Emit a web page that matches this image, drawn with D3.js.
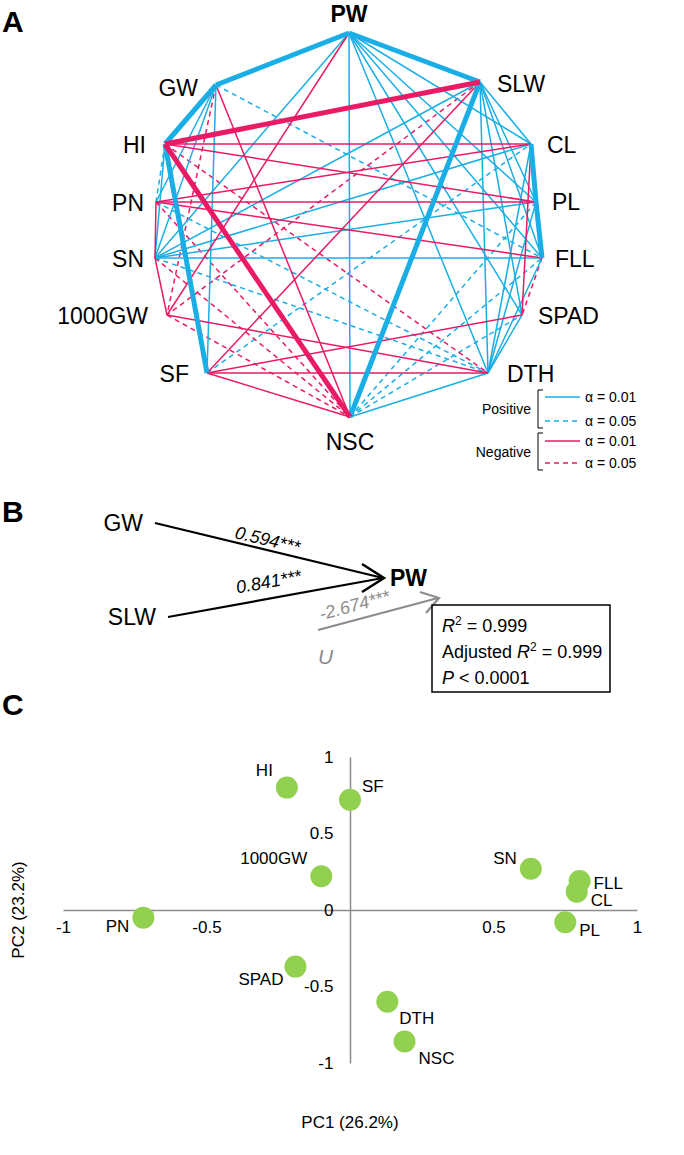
<!DOCTYPE html>
<html>
<head>
<meta charset="utf-8">
<script src="https://cdn.jsdelivr.net/npm/d3@7"></script>
<style>
  body { margin: 0; background: #fff; }
  text { font-family: "Liberation Sans", Arial, sans-serif; }
</style>
</head>
<body>
<div id="chart"></div>
<script>
// ---------- panel A: correlation network ----------
const traits = ["PW", "SLW", "CL", "PL", "FLL", "SPAD", "DTH", "NSC", "SF", "1000GW", "SN", "PN", "HI", "GW"];

// positive correlations, alpha = 0.01 (strong ones drawn thick)
const posStrong = [["PW", "GW"], ["PW", "SLW"], ["GW", "HI"], ["HI", "SF"], ["SLW", "NSC"], ["CL", "PL"], ["PL", "FLL"]];
const pos01 = [
  ["PW", "NSC"], ["PW", "SN"], ["PW", "CL"], ["PW", "PL"], ["PW", "FLL"], ["PW", "SPAD"], ["PW", "DTH"],
  ["GW", "SF"], ["GW", "PN"], ["GW", "SN"], ["HI", "SN"],
  ["SN", "SLW"], ["SN", "CL"], ["SN", "PL"], ["SN", "FLL"],
  ["SLW", "CL"], ["SLW", "PL"], ["SLW", "FLL"], ["SLW", "SPAD"], ["SLW", "DTH"],
  ["DTH", "CL"], ["DTH", "PL"], ["DTH", "FLL"], ["DTH", "SPAD"], ["DTH", "NSC"]
];
const pos05 = [["GW", "FLL"], ["HI", "PN"], ["SF", "CL"], ["SN", "DTH"], ["PN", "DTH"], ["NSC", "PL"], ["NSC", "SPAD"], ["NSC", "FLL"]];
// negative correlations
const negStrong = [["HI", "SLW"], ["HI", "NSC"]];
const neg01 = [
  ["PW", "1000GW"], ["GW", "NSC"], ["HI", "CL"], ["HI", "PL"], ["PN", "CL"], ["PN", "PL"], ["PN", "FLL"],
  ["PN", "SN"], ["SN", "1000GW"], ["1000GW", "DTH"], ["SF", "SPAD"], ["SF", "DTH"], ["SF", "NSC"],
  ["SF", "SLW"], ["CL", "SPAD"]
];
const neg05 = [["GW", "1000GW"], ["HI", "DTH"], ["SLW", "1000GW"], ["FLL", "SPAD"], ["1000GW", "NSC"], ["SN", "NSC"], ["PN", "NSC"]];

// ---------- panel B: path coefficients ----------
const pathFrom = ["GW", "SLW"];
const pathCoef = ["0.594***", "0.841***"];
const residualCoef = "-2.674***";

// ---------- panel C: PCA loadings ----------
const pcaTraits = ["HI", "SF", "1000GW", "SN", "FLL", "CL", "PN", "PL", "SPAD", "DTH", "NSC"];
const pc1 = [-0.22, 0.0, -0.1, 0.63, 0.8, 0.79, -0.72, 0.75, -0.19, 0.13, 0.19];
const pc2 = [0.8, 0.72, 0.22, 0.27, 0.19, 0.12, -0.05, -0.08, -0.37, -0.6, -0.86];
const axisTicks = [-1, -0.5, 0, 0.5, 1];

const BLUE = "#1aaee6", PINK = "#ea1a64";

const svg = d3.select("#chart").append("svg").attr("width", 684).attr("height", 1155);

// node layout (irregular 14-gon as in the figure)
const layout = {
  PW: [349, 33], SLW: [480, 82], CL: [531, 144], PL: [536, 202], FLL: [542, 258], SPAD: [522, 315],
  DTH: [488, 373], NSC: [350, 417], SF: [207, 373], "1000GW": [167, 315], SN: [155, 258],
  PN: [156, 202], HI: [165, 144], GW: [216, 85]
};

const gA = svg.append("g");
function drawEdges(list, color, width, dash) {
  gA.append("g").selectAll("line").data(list).join("line")
    .attr("x1", d => layout[d[0]][0]).attr("y1", d => layout[d[0]][1])
    .attr("x2", d => layout[d[1]][0]).attr("y2", d => layout[d[1]][1])
    .attr("stroke", color).attr("stroke-width", width)
    .attr("stroke-dasharray", dash);
}
drawEdges(pos05, BLUE, 1.5, "5,4");
drawEdges(neg05, PINK, 1.5, "5,4");
drawEdges(pos01, BLUE, 1.5, null);
drawEdges(neg01, PINK, 1.5, null);
drawEdges(posStrong, BLUE, 5, null);
drawEdges(negStrong, PINK, 5, null);

// node labels
const labelPos = {
  PW: [349, 22, "middle"], SLW: [497, 92, "start"], CL: [547, 153, "start"], PL: [552, 210, "start"],
  FLL: [555, 267, "start"], SPAD: [538, 324, "start"], DTH: [507, 382, "start"], NSC: [350, 450, "middle"],
  SF: [189, 382, "end"], "1000GW": [148, 324, "end"], SN: [144, 267, "end"], PN: [144, 211, "end"],
  HI: [146, 153, "end"], GW: [198, 96, "end"]
};
gA.selectAll("text.node").data(traits).join("text")
  .attr("class", "node")
  .attr("x", d => labelPos[d][0]).attr("y", d => labelPos[d][1])
  .attr("text-anchor", d => labelPos[d][2])
  .attr("font-size", 23)
  .attr("font-weight", d => d === "PW" ? "bold" : "normal")
  .text(d => d);

// legend
const legend = svg.append("g");
const legRows = [
  { y: 397, color: BLUE, dash: null, txt: "α = 0.01" },
  { y: 421, color: BLUE, dash: "5,4", txt: "α = 0.05" },
  { y: 441, color: PINK, dash: null, txt: "α = 0.01" },
  { y: 463, color: PINK, dash: "5,4", txt: "α = 0.05" }
];
legend.selectAll("line").data(legRows).join("line")
  .attr("x1", 545).attr("x2", 580).attr("y1", d => d.y).attr("y2", d => d.y)
  .attr("stroke", d => d.color).attr("stroke-width", 1.5).attr("stroke-dasharray", d => d.dash);
legend.selectAll("text.a").data(legRows).join("text").attr("class", "a")
  .attr("x", 585).attr("y", d => d.y + 5).attr("font-size", 14).text(d => d.txt);
[["Positive", 409, 390, 428], ["Negative", 452, 433, 470]].forEach(([t, y, y0, y1]) => {
  legend.append("text").attr("x", 531).attr("y", y + 5).attr("text-anchor", "end").attr("font-size", 14).text(t);
  legend.append("path").attr("d", `M543,${y0}H538V${y1}H543`).attr("fill", "none").attr("stroke", "#000").attr("stroke-width", 1);
});

// panel letters
[["A", 32], ["B", 522], ["C", 715]].forEach(([t, y]) => {
  svg.append("text").attr("x", 2).attr("y", y).attr("font-size", 30).attr("font-weight", "bold").text(t);
});

// ---------- panel B ----------
const gB = svg.append("g");
const head = [383, 578];
const tails = [[155, 523], [168, 617]];
gB.selectAll("text.src").data(pathFrom).join("text").attr("class", "src")
  .attr("x", (d, i) => tails[i][0] - 12).attr("y", (d, i) => tails[i][1] + 8)
  .attr("text-anchor", "end").attr("font-size", 23).text(d => d);
gB.selectAll("line.path").data(tails).join("line").attr("class", "path")
  .attr("x1", d => d[0]).attr("y1", d => d[1]).attr("x2", head[0]).attr("y2", head[1])
  .attr("stroke", "#000").attr("stroke-width", 2.2);
gB.append("path").attr("d", `M362,564L384,578L362,592`).attr("fill", "none").attr("stroke", "#000").attr("stroke-width", 2.5);
gB.selectAll("text.coef").data(pathCoef).join("text").attr("class", "coef")
  .attr("transform", (d, i) => {
    const t = tails[i], mx = (t[0] + head[0]) / 2 - 4, my = (t[1] + head[1]) / 2;
    const ang = Math.atan2(head[1] - t[1], head[0] - t[0]) * 180 / Math.PI;
    return `translate(${mx},${my}) rotate(${ang}) translate(0,${i === 0 ? -5 : -10})`;
  })
  .attr("text-anchor", "middle").attr("font-size", 18).attr("font-style", "italic")
  .text(d => d);
gB.append("text").attr("x", 390).attr("y", 586).attr("font-size", 23).attr("font-weight", "bold").text("PW");
// residual path
gB.append("line").attr("x1", 318).attr("y1", 630).attr("x2", 438).attr("y2", 598).attr("stroke", "#8c8c8c").attr("stroke-width", 2.2);
gB.append("path").attr("d", "M420,592L439,598L426,613").attr("fill", "none").attr("stroke", "#8c8c8c").attr("stroke-width", 2.2);
gB.append("text").attr("transform", "translate(356,611) rotate(-15)").attr("text-anchor", "middle")
  .attr("font-size", 18).attr("font-style", "italic").attr("fill", "#8c8c8c").text(residualCoef);
gB.append("text").attr("x", 318).attr("y", 664).attr("font-size", 21).attr("font-style", "italic").attr("fill", "#8c8c8c").text("U");
// stats box
gB.append("rect").attr("x", 432).attr("y", 605).attr("width", 178).attr("height", 87).attr("fill", "none").attr("stroke", "#000").attr("stroke-width", 1.5);
const s1 = gB.append("text").attr("x", 442).attr("y", 632).attr("font-size", 18);
s1.append("tspan").attr("font-style", "italic").text("R");
s1.append("tspan").attr("dy", -7).attr("font-size", 12).text("2");
s1.append("tspan").attr("dy", 7).text(" = 0.999");
const s2 = gB.append("text").attr("x", 442).attr("y", 658).attr("font-size", 18);
s2.append("tspan").text("Adjusted ");
s2.append("tspan").attr("font-style", "italic").text("R");
s2.append("tspan").attr("dy", -7).attr("font-size", 12).text("2");
s2.append("tspan").attr("dy", 7).text(" = 0.999");
const s3 = gB.append("text").attr("x", 442).attr("y", 684).attr("font-size", 18);
s3.append("tspan").attr("font-style", "italic").text("P");
s3.append("tspan").text(" < 0.0001");

// ---------- panel C ----------
const gC = svg.append("g");
const x = d3.scaleLinear().domain([-1, 1]).range([63, 637]);
const y = d3.scaleLinear().domain([-1, 1]).range([1063, 757]);
gC.append("g").attr("transform", `translate(0,${y(0)})`)
  .call(d3.axisBottom(x).tickValues(axisTicks).tickSize(0).tickFormat(d => d === 0 ? "" : d))
  .call(g => { g.select(".domain").attr("stroke", "#8c8c8c").attr("stroke-width", 1.5); g.selectAll("text").attr("font-size", 17).attr("dy", "1.2em").attr("fill", "#000"); });
gC.append("g").attr("transform", `translate(${x(0)},0)`)
  .call(d3.axisLeft(y).tickValues(axisTicks).tickSize(0).tickFormat(d => d))
  .call(g => { g.select(".domain").attr("stroke", "#8c8c8c").attr("stroke-width", 1.5); g.selectAll("text").attr("font-size", 17).attr("dx", "-0.8em").attr("fill", "#000"); });
gC.selectAll("circle").data(pcaTraits).join("circle")
  .attr("cx", (d, i) => x(pc1[i])).attr("cy", (d, i) => y(pc2[i])).attr("r", 11).attr("fill", "#92d050");
// point labels: offset [dx, dy, anchor]
const ptLab = {
  HI: [-14, -12, "end"], SF: [12, -8, "start"], "1000GW": [-14, -12, "end"], SN: [-14, -5, "end"],
  FLL: [14, 8, "start"], CL: [14, 14, "start"], PN: [-14, 14, "end"], PL: [14, 14, "start"],
  SPAD: [-12, 18, "end"], DTH: [12, 22, "start"], NSC: [14, 22, "start"]
};
gC.selectAll("text.pt").data(pcaTraits).join("text").attr("class", "pt")
  .attr("x", (d, i) => x(pc1[i]) + ptLab[d][0]).attr("y", (d, i) => y(pc2[i]) + ptLab[d][1])
  .attr("text-anchor", d => ptLab[d][2]).attr("font-size", 17).text(d => d);
gC.append("text").attr("x", 350).attr("y", 1128).attr("text-anchor", "middle").attr("font-size", 17).text("PC1 (26.2%)");
gC.append("text").attr("transform", "translate(24,910) rotate(-90)").attr("text-anchor", "middle").attr("font-size", 17).text("PC2 (23.2%)");
</script>
</body>
</html>
